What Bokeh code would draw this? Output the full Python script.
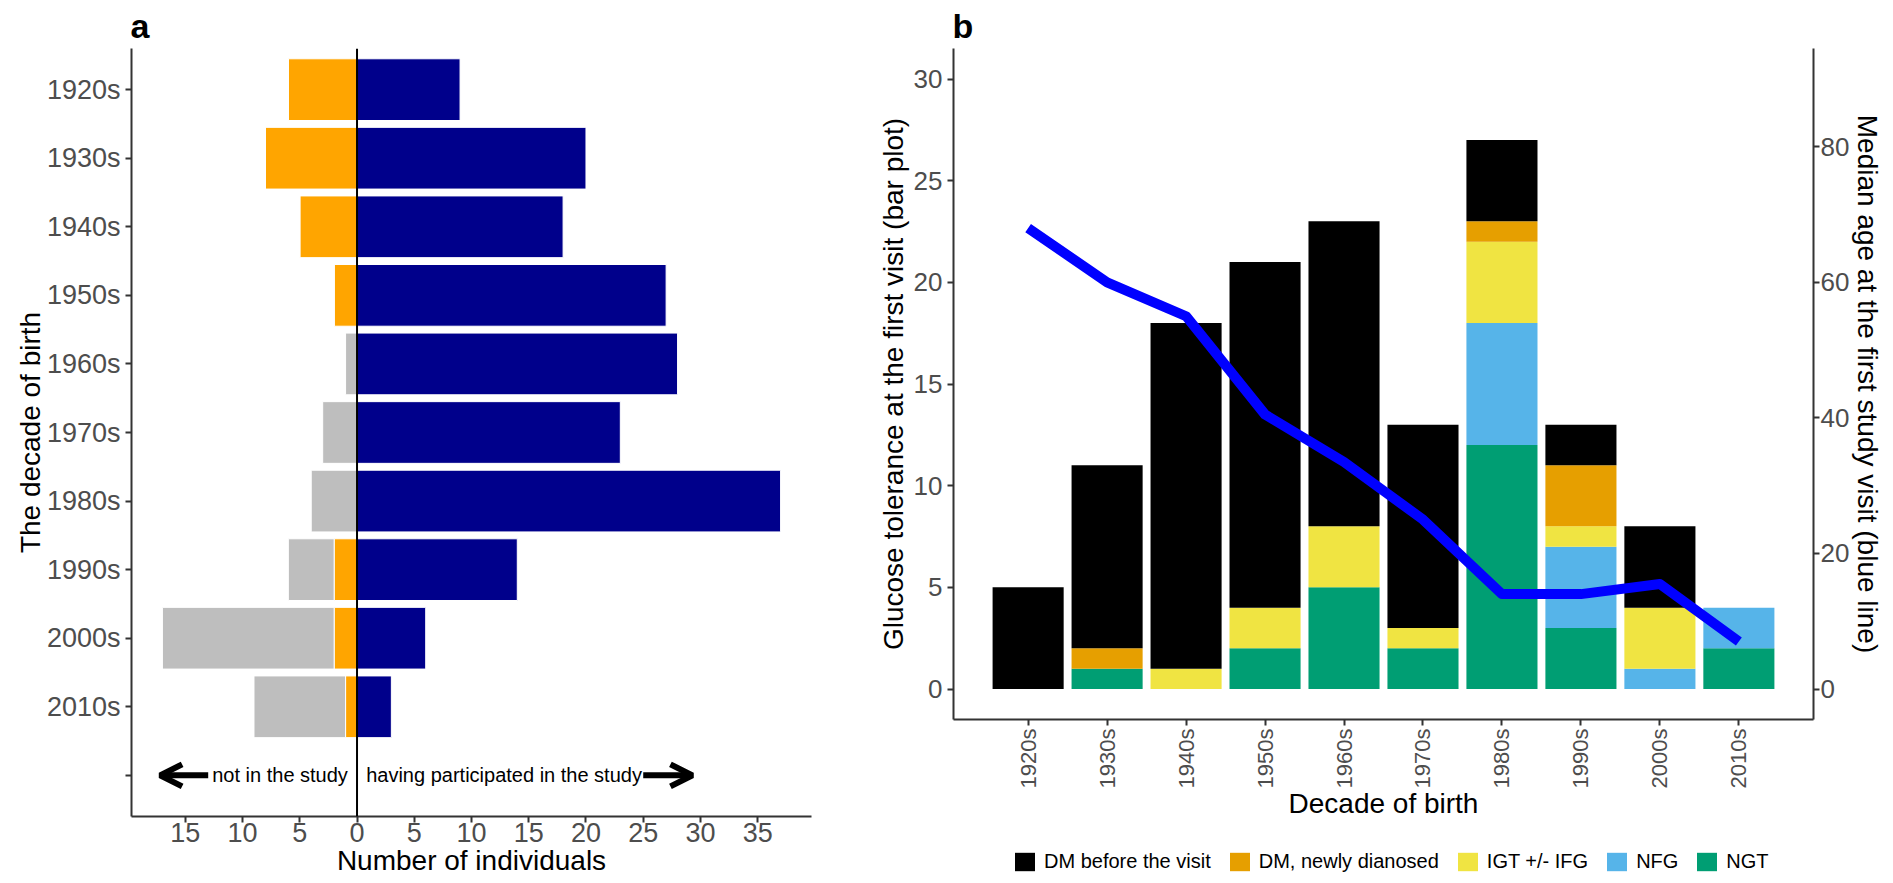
import math
from bokeh.plotting import figure
from bokeh.models import (FixedTicker, Span, Arrow, OpenHead, Legend, LegendItem,
                          LinearAxis, Range1d, ColumnDataSource)
from bokeh.layouts import row, column
from bokeh.embed import file_html
from bokeh.resources import INLINE
from bokeh.core.properties import value

# ---------------- data: panel a ----------------
decades = ["1920s", "1930s", "1940s", "1950s", "1960s", "1970s", "1980s", "1990s", "2000s", "2010s"]
participated = [9, 20, 18, 27, 28, 23, 37, 14, 6, 3]
not_in_study_orange = [6, 8, 5, 2, 0, 0, 0, 2, 2, 1]
not_in_study_gray = [0, 0, 0, 0, 1, 3, 4, 4, 15, 8]
x_ticks_a = [-15, -10, -5, 0, 5, 10, 15, 20, 25, 30, 35]
note_left = "not in the study"
note_right = "having participated in the study"

# ---------------- data: panel b ----------------
decade_years = [1920, 1930, 1940, 1950, 1960, 1970, 1980, 1990, 2000, 2010]
dm_before = [5, 9, 17, 17, 15, 10, 4, 2, 4, 0]
dm_new = [0, 1, 0, 0, 0, 0, 1, 3, 0, 0]
igt_ifg = [0, 0, 1, 2, 3, 1, 4, 1, 3, 0]
nfg = [0, 0, 0, 0, 0, 0, 6, 4, 1, 2]
ngt = [0, 1, 0, 2, 5, 2, 12, 3, 0, 2]
median_age = [68, 60, 55, 40.5, 33.5, 25, 14, 14, 15.5, 7]
legend_labels = ["DM before the visit", "DM, newly dianosed", "IGT +/- IFG", "NFG", "NGT"]
legend_colors = ["#000000", "#E69F00", "#F0E442", "#56B4E9", "#009E73"]
y_ticks_b = [0, 5, 10, 15, 20, 25, 30]
age_ticks = [0, 20, 40, 60, 80]

FONT = "Liberation Sans"
TICK_COLOR = "#4D4D4D"
AXIS_COLOR = "#333333"

W_A, W_B, H = 860, 1033, 883
H_LEG = 43
TOP = 47


def style_axis(ax, tick_size, standoff, title_standoff):
    ax.axis_line_color = AXIS_COLOR
    ax.axis_line_width = 2
    ax.major_tick_line_color = AXIS_COLOR
    ax.major_tick_line_width = 2
    ax.major_tick_out = 6
    ax.major_tick_in = 0
    ax.minor_tick_out = 0
    ax.minor_tick_in = 0
    ax.major_label_text_font = FONT
    ax.major_label_text_font_size = tick_size
    ax.major_label_text_color = TICK_COLOR
    ax.major_label_standoff = standoff
    ax.axis_label_text_font = FONT
    ax.axis_label_text_font_size = "28px"
    ax.axis_label_text_font_style = "normal"
    ax.axis_label_text_color = "black"
    ax.axis_label_standoff = title_standoff


def style_title(p, text):
    p.title.text = text
    p.title.align = "left"
    p.title.offset = -1
    p.title.standoff = 8
    p.title.text_font = FONT
    p.title.text_font_size = "34px"
    p.title.text_font_style = "bold"
    p.title.text_color = "black"


# ================= panel a =================
n = len(decades)
ypos = [n - i for i in range(n)]
orange_left = [-v for v in not_in_study_orange]
gray_left = [-(o + g) for o, g in zip(not_in_study_orange, not_in_study_gray)]

pa = figure(width=W_A, height=H, x_range=Range1d(-19.7, 39.7), y_range=Range1d(-0.6, 10.6),
            output_backend="svg", toolbar_location=None,
            min_border_left=131, min_border_right=49, min_border_top=TOP, min_border_bottom=67)
pa.frame_align = False
pa.grid.grid_line_color = None
pa.outline_line_color = None
style_title(pa, "a")

pa.hbar(y=ypos, left=0, right=participated, height=0.9, fill_color="#00008B",
        line_color="white", line_width=1)
pa.hbar(y=ypos, left=orange_left, right=0, height=0.9, fill_color="#FFA500",
        line_color="white", line_width=1)
pa.hbar(y=ypos, left=gray_left, right=orange_left, height=0.9, fill_color="#BEBEBE",
        line_color="white", line_width=1)

pa.add_layout(Span(location=0, dimension="height", line_color="black", line_width=2))

pa.text(x=[-0.8], y=[0], text=[note_left], text_align="right", text_baseline="middle",
        text_font=value(FONT), text_font_size="20px", text_color="black")
pa.text(x=[0.8], y=[0], text=[note_right], text_align="left", text_baseline="middle",
        text_font=value(FONT), text_font_size="20px", text_color="black")
pa.add_layout(Arrow(end=OpenHead(size=22, line_width=6, line_color="black"),
                    x_start=-13.0, y_start=0, x_end=-17.2, y_end=0,
                    line_width=6, line_color="black"))
pa.add_layout(Arrow(end=OpenHead(size=22, line_width=6, line_color="black"),
                    x_start=25.0, y_start=0, x_end=29.3, y_end=0,
                    line_width=6, line_color="black"))

pa.xaxis.ticker = FixedTicker(ticks=x_ticks_a)
pa.xaxis.major_label_overrides = {t: str(abs(t)) for t in x_ticks_a}
pa.xaxis.axis_label = "Number of individuals"
style_axis(pa.xaxis[0], "27px", 0, 0)

pa.yaxis.ticker = FixedTicker(ticks=[0] + ypos)
ov = {0: ""}
ov.update({p: d for p, d in zip(ypos, decades)})
pa.yaxis.major_label_overrides = ov
pa.yaxis.axis_label = "The decade of birth"
style_axis(pa.yaxis[0], "27px", 5, -2)

# ================= panel b =================
AGE_F = 3.0
H_B = H - H_LEG
pb = figure(width=W_B, height=H_B, x_range=Range1d(1910.55, 2019.45), y_range=Range1d(-1.5, 31.5),
            output_backend="svg", toolbar_location=None,
            min_border_left=93, min_border_right=80, min_border_top=TOP,
            min_border_bottom=H_B - 719)
pb.frame_align = False
pb.grid.grid_line_color = None
pb.outline_line_color = None
pb.extra_y_ranges = {"age": Range1d(-1.5 * AGE_F, 31.5 * AGE_F)}
style_title(pb, "b")

src = ColumnDataSource(dict(decade=decade_years, NGT=ngt, NFG=nfg, IGT=igt_ifg,
                            DMnew=dm_new, DMbefore=dm_before))
stack_cols = ["NGT", "NFG", "IGT", "DMnew", "DMbefore"]
stack_colors = ["#009E73", "#56B4E9", "#F0E442", "#E69F00", "#000000"]
rends = pb.vbar_stack(stack_cols, x="decade", width=9, fill_color=stack_colors,
                      line_color=None, source=src)

pb.line(x=decade_years, y=median_age, y_range_name="age", line_color="#0000FF",
        line_width=10, line_join="round")

pb.xaxis.ticker = FixedTicker(ticks=decade_years)
pb.xaxis.major_label_overrides = {y: d for y, d in zip(decade_years, decades)}
pb.xaxis.major_label_orientation = math.pi / 2
pb.xaxis.axis_label = "Decade of birth"
style_axis(pb.xaxis[0], "22px", 3, -3)

pb.yaxis.ticker = FixedTicker(ticks=y_ticks_b)
pb.yaxis.axis_label = "Glucose tolerance at the first visit (bar plot)"
style_axis(pb.yaxis[0], "26px", 5, 2)

right_ax = LinearAxis(y_range_name="age", ticker=FixedTicker(ticks=age_ticks),
                      axis_label="Median age at the first study visit (blue line)")
style_axis(right_ax, "26px", 1, 0)
pb.add_layout(right_ax, "right")

# ================= legend strip under panel b =================
# the same stacked series, drawn outside this strip's visible range, only supply the legend keys
pl = figure(width=W_B, height=H_LEG, x_range=Range1d(0, 1), y_range=Range1d(0, 1),
            output_backend="svg", toolbar_location=None,
            x_axis_location=None, y_axis_location=None,
            min_border_left=0, min_border_right=0, min_border_top=0, min_border_bottom=0)
pl.frame_align = False
pl.grid.grid_line_color = None
pl.outline_line_color = None
key_rends = pl.vbar_stack(stack_cols, x="decade", width=9, fill_color=stack_colors,
                          line_color=None, source=src)
kmap = dict(zip(stack_cols, key_rends))
order = ["DMbefore", "DMnew", "IGT", "NFG", "NGT"]
items = [LegendItem(label=lab, renderers=[kmap[k]]) for lab, k in zip(legend_labels, order)]
legend = Legend(items=items, orientation="horizontal", location=(152, 10),
                glyph_width=25, glyph_height=23, label_text_font=FONT,
                label_text_font_size="20px", label_text_color="black", label_standoff=7,
                spacing=16, padding=0, margin=0, border_line_color=None,
                background_fill_alpha=0)
pl.add_layout(legend, "center")

layout = row(pa, column(pb, pl))
open("out.html", "w").write(file_html(layout, INLINE))
